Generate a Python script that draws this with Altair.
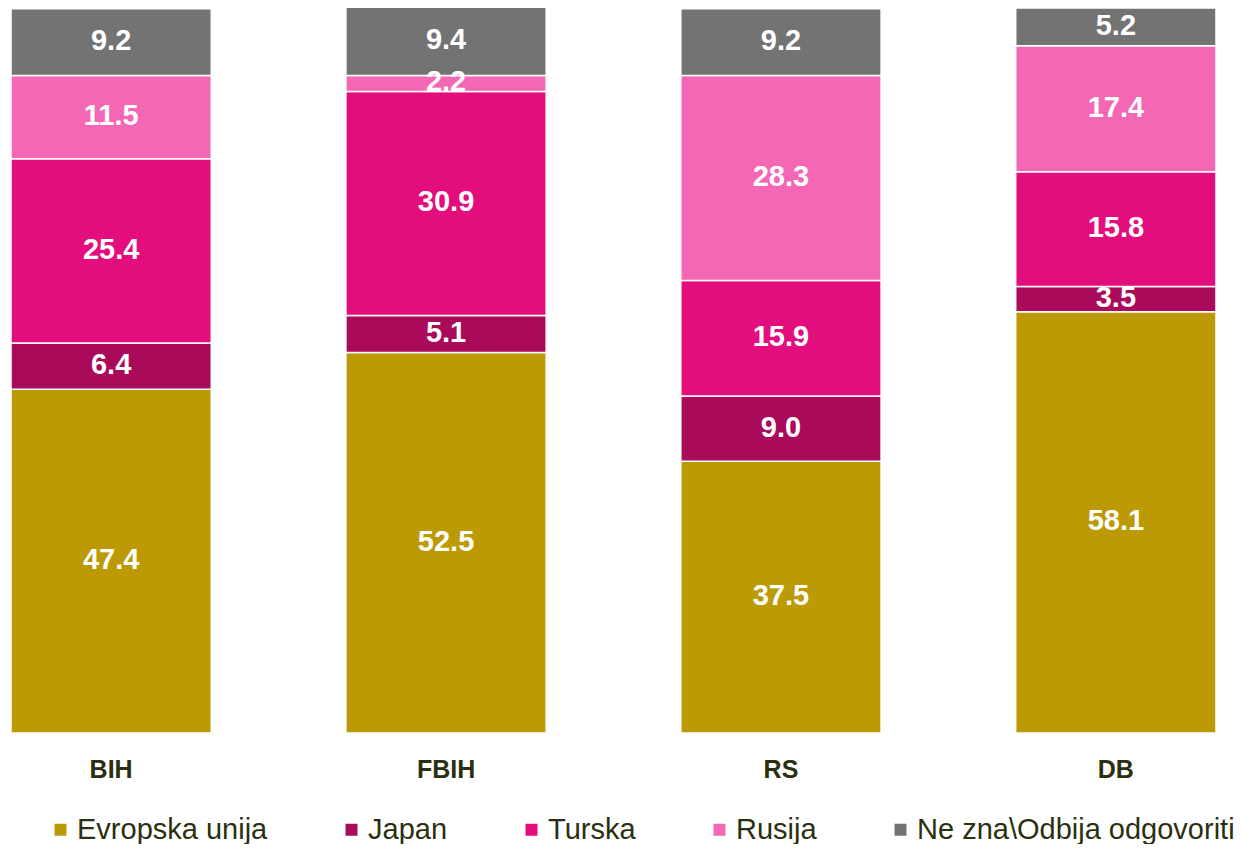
import altair as alt
import pandas as pd

regions = ["BIH", "FBIH", "RS", "DB"]
series = ["Evropska unija", "Japan", "Turska", "Rusija", "Ne zna\\Odbija odgovoriti"]
colors = ["#BC9A06", "#AA0A5A", "#E40D7E", "#F467B4", "#737373"]

eu = [47.4, 52.5, 37.5, 58.1]
japan = [6.4, 5.1, 9.0, 3.5]
turska = [25.4, 30.9, 15.9, 15.8]
rusija = [11.5, 2.2, 28.3, 17.4]
nezna = [9.2, 9.4, 9.2, 5.2]

rows = []
for si, (name, vals) in enumerate(zip(series, [eu, japan, turska, rusija, nezna])):
    for r, v in zip(regions, vals):
        rows.append({"region": r, "series": name, "idx": si, "value": v})
df = pd.DataFrame(rows)

FONT = "Liberation Sans"
TXT = "#2A300F"

base = alt.Chart(df).transform_stack(
    stack="value", groupby=["region"], sort=[alt.SortField("idx", order="ascending")], as_=["y0", "y1"]
).transform_calculate(mid="(datum.y0 + datum.y1) / 2")

x = alt.X("region:N", sort=regions, title=None,
          scale=alt.Scale(paddingInner=0.402, paddingOuter=0.009),
          axis=alt.Axis(labelAngle=0, labelFont=FONT, labelFontSize=25, labelFontWeight="bold",
                        labelColor=TXT, domain=False, ticks=False, tickSize=0, labelPadding=24,
                        grid=False))
yscale = alt.Scale(domain=[0, 100], nice=False, zero=True)

bars = base.mark_bar(stroke="white", strokeWidth=1.5).encode(
    x=x,
    y=alt.Y("y0:Q", scale=yscale, axis=None, title=None),
    y2="y1:Q",
    color=alt.Color("series:N", sort=series,
                    scale=alt.Scale(domain=series, range=colors),
                    legend=alt.Legend(title=None, orient="none", direction="horizontal",
                                      legendX=38, legendY=807, symbolType="square",
                                      symbolSize=144, symbolStrokeWidth=0, labelFont=FONT,
                                      labelFontSize=29, labelColor=TXT, labelLimit=0,
                                      labelOffset=2, columnPadding=69, padding=0)),
)

labels = base.mark_text(font=FONT, fontSize=29, fontWeight="bold", color="white",
                        align="center", baseline="middle", dy=-1).encode(
    x=alt.X("region:N", sort=regions),
    y=alt.Y("mid:Q", scale=yscale, axis=None),
    text=alt.Text("value:Q", format=".1f"),
)

chart = alt.layer(bars, labels).properties(
    width=1211, height=725, background="white",
    padding={"left": 0, "top": 0, "right": 15, "bottom": 111},
    autosize=alt.AutoSizeParams(type="none"),
).configure_view(strokeWidth=0, stroke=None).configure_axis(grid=False)

chart.save("out.html", embed_options={"renderer": "svg", "actions": False})
